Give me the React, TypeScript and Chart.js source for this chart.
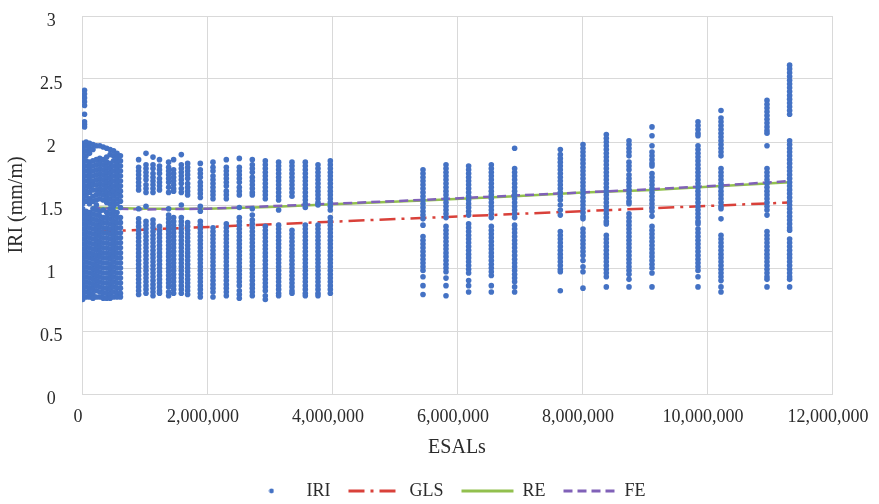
import React, { useEffect, useRef } from "react";
import { Chart, registerables } from "chart.js";

Chart.register(...registerables);

// ---- Data ----
// Dense cluster of low-traffic sections (0 – 615,000 ESALs)
const blobESALs = [10000, 65000, 120000, 175000, 230000, 285000, 340000, 395000, 450000, 505000, 560000, 615000];
const blobIRI: number[][] = [
  [1.99, 1.95, 1.91, 1.87, 1.83, 1.79, 1.75, 1.71, 1.67, 1.63, 1.59, 1.55, 1.51, 1.47, 1.43, 1.39, 1.35, 1.31, 1.27, 1.23, 1.19, 1.15, 1.11, 1.07, 1.03, 0.99, 0.95, 0.91, 0.87, 0.83, 0.79, 0.75],
  [2.0, 1.97, 1.93, 1.89, 1.85, 1.81, 1.77, 1.73, 1.69, 1.65, 1.61, 1.57, 1.53, 1.45, 1.41, 1.37, 1.33, 1.29, 1.25, 1.21, 1.17, 1.13, 1.09, 1.05, 1.01, 0.97, 0.93, 0.89, 0.85, 0.81, 0.77],
  [1.99, 1.95, 1.91, 1.84, 1.8, 1.76, 1.72, 1.68, 1.64, 1.6, 1.55, 1.51, 1.44, 1.4, 1.36, 1.32, 1.28, 1.24, 1.2, 1.16, 1.12, 1.08, 1.04, 1.0, 0.96, 0.92, 0.88, 0.84, 0.8, 0.77],
  [1.98, 1.94, 1.85, 1.81, 1.77, 1.73, 1.69, 1.66, 1.62, 1.57, 1.53, 1.47, 1.43, 1.39, 1.35, 1.31, 1.27, 1.23, 1.19, 1.15, 1.11, 1.07, 1.03, 0.99, 0.95, 0.91, 0.87, 0.83, 0.79, 0.76],
  [1.97, 1.86, 1.82, 1.78, 1.74, 1.7, 1.66, 1.62, 1.58, 1.54, 1.5, 1.46, 1.42, 1.38, 1.34, 1.3, 1.26, 1.22, 1.18, 1.14, 1.1, 1.06, 1.02, 0.98, 0.94, 0.9, 0.86, 0.82, 0.77],
  [1.97, 1.87, 1.83, 1.79, 1.75, 1.71, 1.67, 1.63, 1.59, 1.55, 1.45, 1.41, 1.37, 1.33, 1.29, 1.25, 1.21, 1.17, 1.13, 1.09, 1.05, 1.01, 0.97, 0.93, 0.89, 0.85, 0.81, 0.77],
  [1.96, 1.86, 1.82, 1.78, 1.74, 1.7, 1.66, 1.62, 1.58, 1.54, 1.46, 1.4, 1.36, 1.32, 1.28, 1.24, 1.2, 1.16, 1.12, 1.08, 1.04, 1.0, 0.96, 0.92, 0.88, 0.84, 0.8, 0.76],
  [1.95, 1.88, 1.84, 1.8, 1.76, 1.72, 1.68, 1.64, 1.6, 1.56, 1.52, 1.44, 1.4, 1.36, 1.32, 1.28, 1.24, 1.2, 1.16, 1.12, 1.08, 1.04, 1.0, 0.96, 0.92, 0.88, 0.84, 0.8, 0.76],
  [1.94, 1.9, 1.83, 1.79, 1.75, 1.71, 1.67, 1.63, 1.59, 1.55, 1.51, 1.47, 1.43, 1.39, 1.35, 1.31, 1.27, 1.23, 1.19, 1.15, 1.11, 1.07, 1.03, 0.99, 0.95, 0.91, 0.87, 0.83, 0.79, 0.76],
  [1.93, 1.89, 1.85, 1.81, 1.77, 1.73, 1.69, 1.65, 1.61, 1.57, 1.53, 1.49, 1.45, 1.41, 1.37, 1.33, 1.29, 1.25, 1.21, 1.17, 1.13, 1.09, 1.05, 1.01, 0.97, 0.93, 0.89, 0.85, 0.81, 0.77],
  [1.91, 1.87, 1.83, 1.79, 1.75, 1.71, 1.67, 1.63, 1.59, 1.55, 1.51, 1.44, 1.4, 1.36, 1.32, 1.28, 1.24, 1.2, 1.16, 1.12, 1.08, 1.04, 1.0, 0.96, 0.92, 0.88, 0.84, 0.8, 0.77],
  [1.89, 1.85, 1.81, 1.77, 1.73, 1.69, 1.65, 1.61, 1.57, 1.53, 1.48, 1.4, 1.36, 1.32, 1.28, 1.24, 1.2, 1.16, 1.12, 1.08, 1.04, 1.0, 0.96, 0.92, 0.88, 0.84, 0.8, 0.77],
];

// High outliers near zero traffic
const outlierESALs = [40000];
const outlierIRI: number[][] = [[2.41, 2.38, 2.35, 2.32, 2.29, 2.22, 2.16, 2.14, 2.12]];

// Columns between 0.9 and 4 million ESALs
const midESALs = [906000, 1024000, 1136000, 1240000, 1386000, 1466000, 1589000, 1690000, 1893000, 2096000, 2309000, 2517000, 2725000, 2933000, 3146000, 3360000, 3573000, 3776000, 3973000];
const midIRI: number[][] = [
  [1.86, 1.8, 1.77, 1.74, 1.71, 1.68, 1.65, 1.62, 1.47, 1.39, 1.36, 1.33, 1.3, 1.27, 1.24, 1.21, 1.18, 1.15, 1.12, 1.09, 1.06, 1.03, 1.0, 0.97, 0.94, 0.91, 0.88, 0.85, 0.82, 0.79],
  [1.91, 1.82, 1.79, 1.76, 1.73, 1.7, 1.66, 1.63, 1.6, 1.49, 1.37, 1.34, 1.31, 1.28, 1.25, 1.22, 1.19, 1.16, 1.13, 1.1, 1.07, 1.04, 1.01, 0.98, 0.95, 0.92, 0.89, 0.86, 0.83, 0.8],
  [1.88, 1.82, 1.79, 1.75, 1.72, 1.69, 1.66, 1.63, 1.6, 1.38, 1.35, 1.32, 1.29, 1.26, 1.23, 1.2, 1.17, 1.14, 1.11, 1.08, 1.05, 1.02, 0.99, 0.96, 0.93, 0.9, 0.87, 0.84, 0.81, 0.78],
  [1.86, 1.81, 1.78, 1.75, 1.71, 1.68, 1.65, 1.62, 1.33, 1.3, 1.27, 1.24, 1.21, 1.18, 1.15, 1.12, 1.09, 1.06, 1.03, 1.0, 0.97, 0.94, 0.91, 0.88, 0.85, 0.82, 0.8],
  [1.84, 1.8, 1.77, 1.74, 1.71, 1.68, 1.64, 1.6, 1.47, 1.42, 1.39, 1.36, 1.33, 1.3, 1.27, 1.24, 1.21, 1.18, 1.15, 1.12, 1.09, 1.06, 1.03, 1.0, 0.97, 0.94, 0.91, 0.88, 0.85, 0.81, 0.78],
  [1.86, 1.78, 1.75, 1.72, 1.69, 1.66, 1.63, 1.61, 1.4, 1.37, 1.34, 1.31, 1.28, 1.25, 1.22, 1.19, 1.16, 1.13, 1.1, 1.07, 1.04, 1.01, 0.98, 0.95, 0.92, 0.89, 0.86, 0.83, 0.8],
  [1.9, 1.82, 1.79, 1.76, 1.73, 1.7, 1.67, 1.63, 1.6, 1.5, 1.4, 1.37, 1.34, 1.31, 1.28, 1.25, 1.22, 1.19, 1.16, 1.13, 1.1, 1.07, 1.04, 1.01, 0.98, 0.95, 0.92, 0.89, 0.86, 0.83, 0.8],
  [1.83, 1.8, 1.77, 1.74, 1.71, 1.67, 1.64, 1.61, 1.58, 1.36, 1.33, 1.3, 1.27, 1.24, 1.21, 1.18, 1.15, 1.12, 1.09, 1.06, 1.03, 1.0, 0.97, 0.94, 0.91, 0.88, 0.85, 0.82, 0.79],
  [1.83, 1.78, 1.75, 1.72, 1.68, 1.65, 1.62, 1.59, 1.56, 1.49, 1.45, 1.37, 1.34, 1.31, 1.28, 1.25, 1.22, 1.19, 1.16, 1.13, 1.1, 1.07, 1.04, 1.01, 0.98, 0.95, 0.92, 0.89, 0.86, 0.83, 0.8, 0.77],
  [1.84, 1.8, 1.77, 1.73, 1.7, 1.67, 1.64, 1.61, 1.58, 1.55, 1.32, 1.29, 1.26, 1.23, 1.2, 1.17, 1.14, 1.11, 1.08, 1.05, 1.02, 0.99, 0.96, 0.93, 0.9, 0.87, 0.84, 0.81, 0.77],
  [1.86, 1.8, 1.77, 1.74, 1.71, 1.68, 1.65, 1.61, 1.58, 1.55, 1.35, 1.32, 1.29, 1.26, 1.23, 1.2, 1.17, 1.14, 1.11, 1.08, 1.05, 1.02, 0.99, 0.96, 0.93, 0.9, 0.87, 0.84, 0.81, 0.78],
  [1.87, 1.8, 1.77, 1.74, 1.71, 1.68, 1.64, 1.61, 1.58, 1.48, 1.4, 1.37, 1.34, 1.31, 1.28, 1.25, 1.22, 1.19, 1.16, 1.13, 1.1, 1.07, 1.04, 1.01, 0.98, 0.95, 0.92, 0.89, 0.86, 0.82, 0.79, 0.76],
  [1.86, 1.82, 1.79, 1.76, 1.72, 1.69, 1.66, 1.63, 1.6, 1.58, 1.47, 1.42, 1.38, 1.35, 1.32, 1.29, 1.26, 1.23, 1.2, 1.17, 1.14, 1.11, 1.08, 1.05, 1.02, 0.99, 0.96, 0.93, 0.9, 0.87, 0.84, 0.81, 0.78],
  [1.85, 1.82, 1.79, 1.76, 1.73, 1.7, 1.67, 1.64, 1.61, 1.58, 1.55, 1.33, 1.3, 1.27, 1.24, 1.21, 1.18, 1.15, 1.12, 1.09, 1.06, 1.03, 1.0, 0.97, 0.94, 0.91, 0.88, 0.85, 0.82, 0.78, 0.75],
  [1.84, 1.81, 1.78, 1.75, 1.72, 1.69, 1.66, 1.63, 1.6, 1.57, 1.54, 1.46, 1.34, 1.31, 1.28, 1.25, 1.22, 1.19, 1.16, 1.13, 1.1, 1.07, 1.04, 1.01, 0.98, 0.95, 0.92, 0.89, 0.86, 0.83, 0.8, 0.78],
  [1.84, 1.81, 1.78, 1.75, 1.72, 1.69, 1.66, 1.63, 1.6, 1.57, 1.3, 1.27, 1.24, 1.21, 1.18, 1.15, 1.12, 1.09, 1.06, 1.03, 1.0, 0.97, 0.94, 0.91, 0.88, 0.85, 0.82, 0.8],
  [1.84, 1.81, 1.78, 1.75, 1.72, 1.69, 1.66, 1.63, 1.6, 1.57, 1.54, 1.51, 1.48, 1.34, 1.31, 1.28, 1.25, 1.22, 1.19, 1.16, 1.13, 1.1, 1.07, 1.04, 1.01, 0.98, 0.95, 0.92, 0.89, 0.86, 0.83, 0.8, 0.78],
  [1.82, 1.79, 1.76, 1.73, 1.7, 1.67, 1.64, 1.61, 1.58, 1.55, 1.52, 1.5, 1.34, 1.31, 1.28, 1.25, 1.22, 1.19, 1.16, 1.13, 1.1, 1.07, 1.04, 1.01, 0.98, 0.95, 0.92, 0.89, 0.86, 0.83, 0.8, 0.78],
  [1.85, 1.82, 1.79, 1.76, 1.73, 1.7, 1.67, 1.64, 1.61, 1.58, 1.55, 1.52, 1.49, 1.46, 1.4, 1.37, 1.34, 1.31, 1.28, 1.25, 1.22, 1.19, 1.16, 1.13, 1.1, 1.07, 1.04, 1.01, 0.98, 0.95, 0.92, 0.89, 0.86, 0.83, 0.8],
];

// Columns between 5.4 and 11.4 million ESALs
const highESALs = [5456000, 5824000, 6186000, 6549000, 6922000, 7653000, 8016000, 8389000, 8752000, 9120000, 9856000, 10224000, 10960000, 11322000];
const highIRI: number[][] = [
  [1.78, 1.75, 1.72, 1.69, 1.66, 1.63, 1.6, 1.57, 1.54, 1.51, 1.48, 1.45, 1.42, 1.39, 1.34, 1.25, 1.22, 1.19, 1.16, 1.13, 1.1, 1.07, 1.04, 1.01, 0.98, 0.93, 0.86, 0.79],
  [1.82, 1.79, 1.76, 1.73, 1.7, 1.67, 1.64, 1.61, 1.58, 1.55, 1.52, 1.49, 1.46, 1.43, 1.4, 1.33, 1.3, 1.27, 1.24, 1.21, 1.18, 1.15, 1.12, 1.09, 1.06, 1.03, 1.0, 0.97, 0.92, 0.86, 0.78],
  [1.81, 1.78, 1.75, 1.72, 1.69, 1.66, 1.63, 1.6, 1.57, 1.54, 1.51, 1.48, 1.45, 1.42, 1.35, 1.32, 1.29, 1.26, 1.23, 1.2, 1.17, 1.14, 1.11, 1.08, 1.05, 1.02, 0.99, 0.96, 0.9, 0.86, 0.81],
  [1.82, 1.79, 1.76, 1.73, 1.7, 1.67, 1.64, 1.61, 1.58, 1.55, 1.52, 1.49, 1.46, 1.43, 1.4, 1.33, 1.3, 1.27, 1.24, 1.21, 1.18, 1.15, 1.12, 1.09, 1.06, 1.03, 1.0, 0.97, 0.94, 0.86, 0.81],
  [1.95, 1.79, 1.76, 1.73, 1.7, 1.67, 1.64, 1.61, 1.58, 1.55, 1.52, 1.49, 1.46, 1.43, 1.4, 1.34, 1.31, 1.28, 1.25, 1.22, 1.19, 1.16, 1.13, 1.1, 1.07, 1.04, 1.01, 0.98, 0.95, 0.92, 0.89, 0.85, 0.81],
  [1.94, 1.9, 1.87, 1.84, 1.81, 1.78, 1.75, 1.72, 1.69, 1.66, 1.63, 1.6, 1.57, 1.54, 1.5, 1.46, 1.42, 1.29, 1.26, 1.23, 1.2, 1.17, 1.14, 1.11, 1.08, 1.05, 1.02, 0.99, 0.97, 0.82],
  [1.98, 1.95, 1.92, 1.89, 1.86, 1.83, 1.8, 1.77, 1.74, 1.71, 1.68, 1.65, 1.62, 1.59, 1.56, 1.53, 1.5, 1.47, 1.44, 1.41, 1.39, 1.31, 1.28, 1.25, 1.22, 1.19, 1.16, 1.13, 1.1, 1.06, 1.01, 0.97, 0.84],
  [2.06, 2.03, 2.0, 1.97, 1.94, 1.91, 1.88, 1.85, 1.82, 1.79, 1.76, 1.73, 1.7, 1.67, 1.64, 1.61, 1.58, 1.55, 1.52, 1.49, 1.46, 1.43, 1.4, 1.37, 1.35, 1.26, 1.23, 1.2, 1.17, 1.14, 1.11, 1.08, 1.05, 1.02, 0.99, 0.96, 0.93, 0.85],
  [2.01, 1.98, 1.95, 1.92, 1.89, 1.84, 1.81, 1.78, 1.74, 1.71, 1.68, 1.65, 1.62, 1.59, 1.56, 1.53, 1.51, 1.43, 1.4, 1.37, 1.34, 1.31, 1.28, 1.25, 1.22, 1.19, 1.16, 1.13, 1.1, 1.07, 1.04, 1.01, 0.98, 0.95, 0.91, 0.85],
  [2.12, 2.05, 1.97, 1.92, 1.89, 1.86, 1.83, 1.81, 1.75, 1.72, 1.69, 1.66, 1.63, 1.6, 1.57, 1.54, 1.51, 1.48, 1.45, 1.41, 1.33, 1.3, 1.27, 1.24, 1.21, 1.18, 1.15, 1.12, 1.09, 1.06, 1.03, 1.0, 0.96, 0.85],
  [2.16, 2.13, 2.1, 2.07, 2.05, 1.97, 1.94, 1.91, 1.88, 1.85, 1.82, 1.79, 1.76, 1.73, 1.7, 1.67, 1.64, 1.61, 1.58, 1.55, 1.52, 1.49, 1.46, 1.43, 1.4, 1.37, 1.35, 1.31, 1.28, 1.25, 1.22, 1.19, 1.16, 1.13, 1.1, 1.07, 1.04, 1.01, 0.98, 0.93, 0.85],
  [2.25, 2.19, 2.16, 2.13, 2.1, 2.07, 2.04, 2.01, 1.98, 1.95, 1.92, 1.89, 1.79, 1.76, 1.73, 1.7, 1.67, 1.64, 1.61, 1.58, 1.55, 1.52, 1.49, 1.47, 1.39, 1.26, 1.23, 1.2, 1.17, 1.14, 1.11, 1.08, 1.05, 1.02, 0.99, 0.96, 0.93, 0.9, 0.85, 0.81],
  [2.33, 2.3, 2.27, 2.24, 2.21, 2.18, 2.15, 2.12, 2.09, 2.07, 1.97, 1.79, 1.76, 1.73, 1.7, 1.67, 1.64, 1.61, 1.58, 1.55, 1.52, 1.49, 1.46, 1.42, 1.29, 1.26, 1.23, 1.2, 1.17, 1.14, 1.11, 1.08, 1.05, 1.02, 0.99, 0.96, 0.93, 0.91, 0.85],
  [2.61, 2.58, 2.55, 2.52, 2.49, 2.46, 2.43, 2.4, 2.37, 2.34, 2.31, 2.28, 2.25, 2.22, 2.01, 1.98, 1.95, 1.92, 1.89, 1.86, 1.83, 1.8, 1.77, 1.74, 1.71, 1.68, 1.65, 1.62, 1.59, 1.56, 1.53, 1.5, 1.47, 1.44, 1.41, 1.38, 1.35, 1.32, 1.3, 1.23, 1.2, 1.17, 1.14, 1.11, 1.08, 1.05, 1.02, 0.99, 0.96, 0.93, 0.91, 0.85],
];

// Model lines
const glsESALs = [300000, 11322000];
const glsIRI = [1.29, 1.52];
const reESALs = [150000, 1000000, 2000000, 3000000, 4000000, 5456000, 6922000, 8016000, 9120000, 10224000, 11322000];
const reIRI = [1.48, 1.47, 1.47, 1.485, 1.505, 1.535, 1.57, 1.6, 1.62, 1.65, 1.68];
const feESALs = [150000, 1000000, 2000000, 3000000, 4000000, 5456000, 6922000, 8016000, 9120000, 10224000, 11322000];
const feIRI = [1.475, 1.465, 1.47, 1.49, 1.51, 1.54, 1.575, 1.6, 1.625, 1.655, 1.69];

const seriesLabels = ["IRI", "GLS", "RE", "FE"];

// ---- Styles ----
const BLUE = "#4472C4";
const RED = "#D9413A";
const GREEN = "#92C04E";
const PURPLE = "#8061B8";
const GRID = "#D9D9D9";
const TEXT = "#2B2B2B";
const FONT = "'Liberation Serif', 'Times New Roman', serif";

function toPoints(xs: number[], yss: number[][]) {
  const pts: { x: number; y: number }[] = [];
  xs.forEach((x, i) => yss[i].forEach((y) => pts.push({ x, y })));
  return pts;
}
function toLine(xs: number[], ys: number[]) {
  return xs.map((x, i) => ({ x, y: ys[i] }));
}

export default function App() {
  const ref = useRef<HTMLCanvasElement | null>(null);

  useEffect(() => {
    document.body.style.margin = "0";
    if (!ref.current) return;

    const dot = document.createElement("canvas");
    dot.width = 6;
    dot.height = 6;
    const dc = dot.getContext("2d");
    if (dc) {
      dc.fillStyle = BLUE;
      dc.beginPath();
      dc.arc(3, 3, 2.4, 0, Math.PI * 2);
      dc.fill();
    }

    const iriPoints = [
      ...toPoints(blobESALs, blobIRI),
      ...toPoints(outlierESALs, outlierIRI),
      ...toPoints(midESALs, midIRI),
      ...toPoints(highESALs, highIRI),
    ];

    const legendShift = {
      id: "legendShift",
      afterLayout(chart: any) {
        const lg = chart.legend;
        if (lg) {
          lg.left += 6;
          lg.right += 6;
          lg.top += 6;
          lg.bottom += 6;
        }
      },
    };

    const chart = new Chart(ref.current, {
      type: "scatter",
      data: {
        datasets: [
          {
            label: seriesLabels[0],
            data: iriPoints,
            backgroundColor: BLUE,
            borderColor: BLUE,
            pointRadius: 2.8,
            pointBorderWidth: 0,
            order: 0,
          } as any,
          {
            label: seriesLabels[1],
            data: toLine(glsESALs, glsIRI),
            showLine: true,
            borderColor: RED,
            backgroundColor: RED,
            borderWidth: 2.5,
            borderDash: [16, 6, 3, 6],
            pointRadius: 0,
            order: 1,
          },
          {
            label: seriesLabels[2],
            data: toLine(reESALs, reIRI),
            showLine: true,
            borderColor: GREEN,
            backgroundColor: GREEN,
            borderWidth: 2.5,
            pointRadius: 0,
            order: 2,
          },
          {
            label: seriesLabels[3],
            data: toLine(feESALs, feIRI),
            showLine: true,
            borderColor: PURPLE,
            backgroundColor: PURPLE,
            borderWidth: 2.5,
            borderDash: [9, 5],
            pointRadius: 0,
            order: 1.5,
          },
        ],
      },
      options: {
        animation: false,
        responsive: false,
        devicePixelRatio: 1,
        layout: { padding: { left: 0, right: 0, top: 16, bottom: 0 } },
        plugins: {
          tooltip: { enabled: false },
          legend: {
            position: "bottom",
            labels: {
              usePointStyle: true,
              pointStyleWidth: 52,
              boxHeight: 18,
              padding: 18,
              color: TEXT,
              font: { family: FONT, size: 18 },
              generateLabels: (c: any) =>
                c.data.datasets.map((ds: any, i: number) => ({
                  text: ds.label,
                  datasetIndex: i,
                  pointStyle: i === 0 ? dot : "line",
                  strokeStyle: ds.borderColor,
                  fillStyle: ds.backgroundColor,
                  lineWidth: i === 0 ? 0 : 3,
                  lineDash: ds.borderDash || [],
                  hidden: false,
                  fontColor: TEXT,
                })),
            },
          },
        },
        scales: {
          x: {
            type: "linear",
            min: 0,
            max: 12000000,
            afterFit: (s: any) => {
              s.height = 64;
              s.paddingRight = 47;
            },
            ticks: {
              stepSize: 2000000,
              maxRotation: 0,
              autoSkip: false,
              padding: 12.5,
              labelOffset: -4,
              color: TEXT,
              font: { family: FONT, size: 18 },
              callback: (v: any) => Number(v).toLocaleString("en-US"),
            },
            grid: { color: GRID, lineWidth: 1, drawTicks: false },
            border: { color: GRID, width: 1 },
            title: {
              display: true,
              text: "ESALs",
              color: TEXT,
              font: { family: FONT, size: 20 },
              padding: { top: 0, bottom: -2 },
            },
          },
          y: {
            type: "linear",
            min: 0,
            max: 3,
            afterFit: (s: any) => {
              s.width = 82;
              s.paddingTop = 0;
              s.paddingBottom = 0;
            },
            ticks: {
              stepSize: 0.5,
              padding: 19.5,
              crossAlign: "center",
              labelOffset: 5,
              color: TEXT,
              font: { family: FONT, size: 18 },
              callback: (v: any) => String(Number(v)),
            },
            grid: { color: GRID, lineWidth: 1, drawTicks: false },
            border: { color: GRID, width: 1 },
            title: {
              display: true,
              text: "IRI (mm/m)",
              color: TEXT,
              font: { family: FONT, size: 20 },
              padding: { top: 5, bottom: 0 },
            },
          },
        },
      },
      plugins: [legendShift],
    } as any);

    return () => chart.destroy();
  }, []);

  return (
    <div style={{ width: 879, height: 504 }}>
      <canvas ref={ref} width={879} height={504} style={{ display: "block" }} />
    </div>
  );
}
